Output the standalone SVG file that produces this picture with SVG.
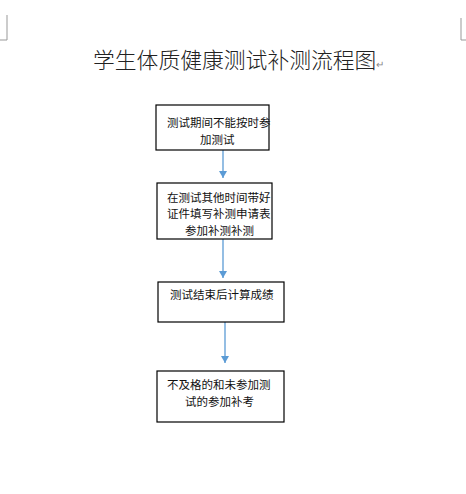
<svg xmlns="http://www.w3.org/2000/svg" width="466" height="494" viewBox="0 0 466 494">
<style>
.box{fill:#fff;stroke:#000;stroke-width:1.2}
.t{font-family:"Noto Sans CJK SC","Noto Sans",sans-serif;font-size:11.5px;fill:#111}
.title{font-family:"Noto Sans CJK SC",sans-serif;font-size:21.8px;font-weight:300;fill:#222}
.arr{stroke:#5b9bd5;stroke-width:1.3;fill:none;marker-end:url(#ah)}
.crop{stroke:#999;stroke-width:1;fill:none}
.pm{font-family:"DejaVu Sans",sans-serif;fill:#888}
</style>
<defs>
<marker id="ah" markerWidth="7" markerHeight="8" refX="7" refY="4" orient="auto" markerUnits="userSpaceOnUse">
<path d="M0,0 L7,4 L0,8 Z" fill="#5b9bd5"/>
</marker>
</defs>
<rect width="466" height="494" fill="#fff"/>
<path class="crop" d="M7,15 V40 H0"/>
<path class="crop" d="M461,18 V40 H466"/>
<text class="title" x="93" y="68">学生体质健康测试补测流程图<tspan class="pm" font-size="10px">↵</tspan></text>
<g id="connectors">
<line class="arr" x1="223" y1="150" x2="223" y2="178"/>
<line class="arr" x1="223" y1="239" x2="223" y2="278"/>
<line class="arr" x1="225" y1="322" x2="225" y2="363"/>
</g>
<g id="n1">
<rect class="box" x="156" y="105" width="113" height="45"/>
<text class="t" x="167" y="127">测试期间不能按时参</text>
<text class="t" x="200" y="144">加测试</text>
</g>
<g id="n2">
<rect class="box" x="157" y="183" width="115" height="56"/>
<text class="t" x="167" y="202">在测试其他时间带好</text>
<text class="t" x="167" y="218">证件填写补测申请表</text>
<text class="t" x="185" y="235">参加补测补测</text>
</g>
<g id="n3">
<rect class="box" x="158" y="282" width="126" height="40"/>
<text class="t" x="170" y="299">测试结束后计算成绩</text>
</g>
<g id="n4">
<rect class="box" x="157" y="371" width="127" height="51"/>
<text class="t" x="167" y="389">不及格的和未参加测</text>
<text class="t" x="185" y="406">试的参加补考</text>
</g>
</svg>
